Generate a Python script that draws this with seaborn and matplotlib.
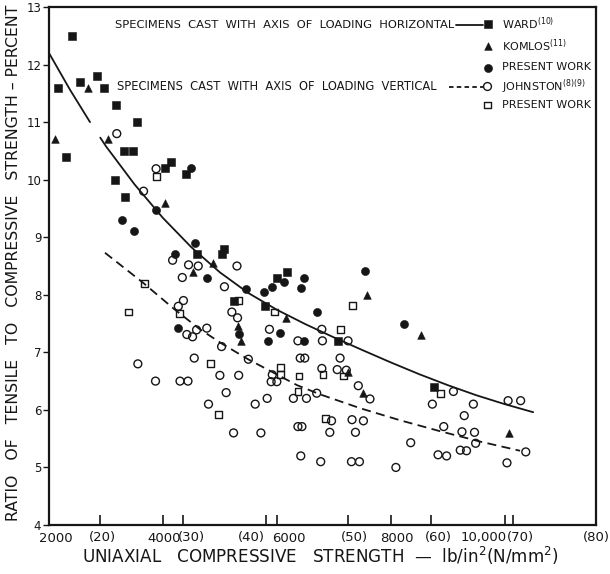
import matplotlib
matplotlib.use("Agg")
import matplotlib.pyplot as plt
import matplotlib.transforms as mtransforms
import numpy as np
import pandas as pd
import seaborn as sns

sns.set_theme(style="ticks")
plt.rcParams["font.family"] = ["DejaVu Sans"]
plt.rcParams["mathtext.default"] = "regular"

INK = "#161616"
PSI_PER_NMM2 = 145.038

# ---- specimens cast with axis of loading horizontal ----
ward_psi = [2400, 2150, 2540, 2850, 2970, 3170, 3540, 2290, 3320, 3470, 3160, 3330,
            4030, 4150, 4410, 4600, 5080, 5030, 6010, 6170, 5250, 5790, 7080, 8760]
ward_ratio = [12.5, 11.6, 11.7, 11.8, 11.6, 11.3, 11.0, 10.4, 10.5, 10.5, 10.0, 9.7,
              10.2, 10.3, 10.1, 8.7, 8.8, 8.7, 8.3, 8.4, 7.9, 7.8, 7.2, 6.4]

komlos_psi = [2690, 2110, 3040, 4040, 4880, 4530, 5310, 5370, 6160, 7590, 8530,
              7250, 7510, 10080]
komlos_ratio = [11.6, 10.7, 10.7, 9.6, 8.55, 8.4, 7.45, 7.2, 7.6, 8.0, 7.3,
                6.65, 6.3, 5.6]

present_h_psi = [4490, 3290, 3490, 3880, 4570, 4220, 4780, 5450, 5770, 5910, 6130,
                 6480, 6430, 7540, 6700, 8230, 4270, 5340, 5850, 6060, 6470]
present_h_ratio = [10.2, 9.3, 9.1, 9.47, 8.9, 8.7, 8.3, 8.1, 8.05, 8.13, 8.22,
                   8.3, 8.12, 8.42, 7.7, 7.5, 7.42, 7.32, 7.2, 7.33, 7.2]

# ---- specimens cast with axis of loading vertical ----
johnston_psi = [3190, 3660, 3880, 4170, 4450, 4620, 4340, 5300, 5080, 4360, 4270,
                4420, 4520, 4590, 4770, 5210, 5310, 5870, 5030, 5500, 4550, 3560,
                3870, 4300, 4440, 5000, 5330, 5110, 4800, 5240, 5620, 5720, 5830,
                5920, 5900, 6000, 6290, 6520, 6370, 6440, 6420, 6410, 6490, 6370,
                6800, 7250, 6790, 7110, 6790, 7060, 7220, 7430, 7635, 6700, 6960,
                6930, 7320, 7520, 7380, 6770, 7310, 7450, 8090, 8350, 9100, 8730,
                9450, 9290, 8930, 9250, 9470, 8830, 8980, 9220, 9330, 9490, 10060,
                10280, 10370, 10040]
johnston_ratio = [10.8, 9.8, 10.19, 8.6, 8.52, 8.5, 8.3, 8.5, 8.14, 7.9, 7.8,
                  7.31, 7.27, 7.39, 7.42, 7.7, 7.6, 7.4, 7.1, 6.88, 6.9, 6.8,
                  6.5, 6.5, 6.5, 6.6, 6.6, 6.3, 6.1, 5.6, 6.1, 5.6, 6.2,
                  6.61, 6.49, 6.49, 6.2, 6.2, 5.71, 5.71, 5.2, 6.9, 6.9, 7.2,
                  7.2, 7.2, 7.4, 6.9, 6.72, 6.7, 6.69, 6.42, 6.19, 6.29, 5.81,
                  5.61, 5.83, 5.81, 5.61, 5.1, 5.1, 5.1, 5.0, 5.43, 6.32, 6.1,
                  6.1, 5.9, 5.71, 5.62, 5.61, 5.22, 5.2, 5.3, 5.29, 5.42, 6.16,
                  6.16, 5.27, 5.08]

present_v_psi = [3890, 3670, 3390, 4290, 5330, 5960, 4840, 4980, 6060, 6060, 6390,
                 6370, 6810, 6860, 7120, 7170, 7330, 8880]
present_v_ratio = [10.05, 8.2, 7.7, 7.68, 7.9, 7.7, 6.8, 5.92, 6.74, 6.62, 6.59,
                   6.32, 6.61, 5.85, 7.4, 6.59, 7.82, 6.29]

# ---- trend curves (the horizontal one is drawn in two pieces) ----
horiz_curve_psi = [2000, 2370, 2720, 2900, 3000, 3500, 4000, 4500, 5000, 5500,
                   6000, 6500, 7000, 7500, 8000, 8500, 9000, 9500, 10000, 10500]
horiz_curve_ratio = [12.2, 11.56, 11.0, 10.73, 10.58, 9.92, 9.335, 8.825, 8.39, 8.03,
                     7.74, 7.49, 7.26, 7.04, 6.825, 6.62, 6.43, 6.255, 6.10, 5.96]
horiz_curve_piece = [0, 0, 0, 1, 1, 1, 1, 1, 1, 1,
                     1, 1, 1, 1, 1, 1, 1, 1, 1, 1]
vert_curve_psi = [2983, 3650, 4212, 4651, 5037, 5494, 5915, 6354, 6758, 7460,
                  8162, 8864, 9567, 10269]
vert_curve_ratio = [8.73, 8.21, 7.74, 7.40, 7.15, 6.88, 6.66, 6.43, 6.27, 6.03,
                    5.82, 5.63, 5.45, 5.29]

# ---- axis ticks ----
psi_ticks = [2000, 4000, 6000, 8000, 10000]
psi_tick_labels = ["2000", "4000", "6000", "8000", "10,000"]
si_ticks = [20, 30, 40, 50, 60, 70, 80]
si_tick_labels = ["(20)", "(30)", "(40)", "(50)", "(60)", "(70)", "(80)"]
ratio_ticks = list(range(4, 14))

W, H, DPI = 610, 574, 100
fig = plt.figure(figsize=(W / DPI, H / DPI), dpi=DPI)
fig.patch.set_facecolor("white")
ax = fig.add_axes([49 / W, (H - 525) / H, 547 / W, 518 / H])
ax.set_facecolor("white")

filled = dict(color=INK, edgecolor=INK, linewidth=0.4, zorder=3)
hollow = dict(color=INK, facecolor="none", edgecolor=INK, linewidth=1.0, zorder=3)

horiz_df = pd.DataFrame({"psi": horiz_curve_psi, "ratio": horiz_curve_ratio,
                         "piece": horiz_curve_piece})
sns.lineplot(data=horiz_df, x="psi", y="ratio", units="piece", estimator=None,
             sort=False, ax=ax, color=INK, lw=1.3, zorder=2)
sns.lineplot(x=vert_curve_psi, y=vert_curve_ratio, ax=ax, color=INK, lw=1.3,
             linestyle=(0, (5, 3)), sort=False, estimator=None, zorder=2)

sns.scatterplot(x=johnston_psi, y=johnston_ratio, ax=ax, marker="o", s=32, **hollow)
sns.scatterplot(x=present_v_psi, y=present_v_ratio, ax=ax, marker="s", s=24, **hollow)
sns.scatterplot(x=ward_psi, y=ward_ratio, ax=ax, marker="s", s=26, **filled)
sns.scatterplot(x=komlos_psi, y=komlos_ratio, ax=ax, marker="^", s=30, **filled)
sns.scatterplot(x=present_h_psi, y=present_h_ratio, ax=ax, marker="o", s=34, **filled)

ax.set_xlim(2000, 80 * PSI_PER_NMM2)
ax.set_ylim(4, 13)
for sp in ax.spines.values():
    sp.set_linewidth(1.6)
    sp.set_color(INK)

# bottom ticks: psi and N/mm2, drawn inward, labels placed by hand
all_xticks = psi_ticks + [v * PSI_PER_NMM2 for v in si_ticks]
ax.set_xticks(all_xticks)
ax.tick_params(axis="x", direction="in", length=7.5, width=1.2, color=INK,
               labelbottom=False)
ax.set_yticks(ratio_ticks)
ax.set_yticklabels([str(v) for v in ratio_ticks])
ax.tick_params(axis="y", direction="out", length=4, width=1.0, color=INK, pad=1.5,
               labelsize=8.5, labelcolor=INK)
ax.set_xlabel("")
ax.set_ylabel("")

blend = mtransforms.blended_transform_factory(ax.transData, ax.transAxes)
label_y = (525 - 538) / 518
psi_label_shift = [7, 1, 12, 6, -21]
si_label_shift = [2, 9, -14, 6, 8, 7, 0]
for v, lab, dx in zip(psi_ticks, psi_tick_labels, psi_label_shift):
    ax.text(v, label_y, lab,
            transform=mtransforms.offset_copy(blend, fig=fig, x=dx, y=0, units="dots"),
            ha="center", va="center", fontsize=9.5, color=INK, clip_on=False)
for v, lab, dx in zip(si_ticks, si_tick_labels, si_label_shift):
    ax.text(v * PSI_PER_NMM2, label_y, lab,
            transform=mtransforms.offset_copy(blend, fig=fig, x=dx, y=0, units="dots"),
            ha="center", va="center", fontsize=9.5, color=INK, clip_on=False)

renderer = fig.canvas.get_renderer()


def fit_width(txt, target_px, vertical=False):
    bb = txt.get_window_extent(renderer)
    size = bb.height if vertical else bb.width
    txt.set_fontsize(txt.get_fontsize() * target_px / size)


xlab = fig.text(320 / W, 1 - 556 / H,
                "UNIAXIAL   COMPRESSIVE   STRENGTH  \u2014  lb/in$^2$(N/mm$^2$)",
                ha="center", va="center", fontsize=12, color=INK)
fit_width(xlab, 476)
ylab = fig.text(14 / W, 1 - 263 / H,
                "RATIO   OF   TENSILE   TO   COMPRESSIVE   STRENGTH \u2013 PERCENT",
                ha="center", va="center", rotation=90, fontsize=12, color=INK)
fit_width(ylab, 515, vertical=True)


# ---- key ----
def fx(px):
    return (px - 49) / 547


def fy(py):
    return (525 - py) / 518


key_fs = 8
t1 = ax.text(fx(115), fy(25.5), "SPECIMENS  CAST  WITH  AXIS  OF  LOADING  HORIZONTAL",
             transform=ax.transAxes, ha="left", va="center", fontsize=key_fs, color=INK)
fit_width(t1, 339)
t2 = ax.text(fx(117), fy(87), "SPECIMENS  CAST  WITH  AXIS  OF  LOADING  VERTICAL",
             transform=ax.transAxes, ha="left", va="center", fontsize=key_fs, color=INK)
fit_width(t2, 322)

ax.plot([fx(456), fx(483)], [fy(25), fy(25)], transform=ax.transAxes, color=INK,
        lw=1.3, clip_on=False)
ax.plot([fx(449), fx(483)], [fy(87), fy(87)], transform=ax.transAxes, color=INK,
        lw=1.3, linestyle=(0, (2.5, 1.8)), clip_on=False)

key_rows = [
    (24, "s", True, 26, "WARD$^{(10)}$"),
    (46, "^", True, 30, "KOMLOS$^{(11)}$"),
    (67.5, "o", True, 34, "PRESENT WORK"),
    (86.5, "o", False, 32, "JOHNSTON$^{(8)(9)}$"),
    (105, "s", False, 24, "PRESENT WORK"),
]
for py, mk, is_filled, size, lab in key_rows:
    style = filled if is_filled else hollow
    ax.scatter([fx(487.5)], [fy(py)], transform=ax.transAxes, marker=mk, s=size,
               clip_on=False, **style)
    ax.text(fx(502), fy(py), lab, transform=ax.transAxes, ha="left", va="center",
            fontsize=key_fs, color=INK)

fig.savefig("out.png", dpi=DPI, facecolor="white")
